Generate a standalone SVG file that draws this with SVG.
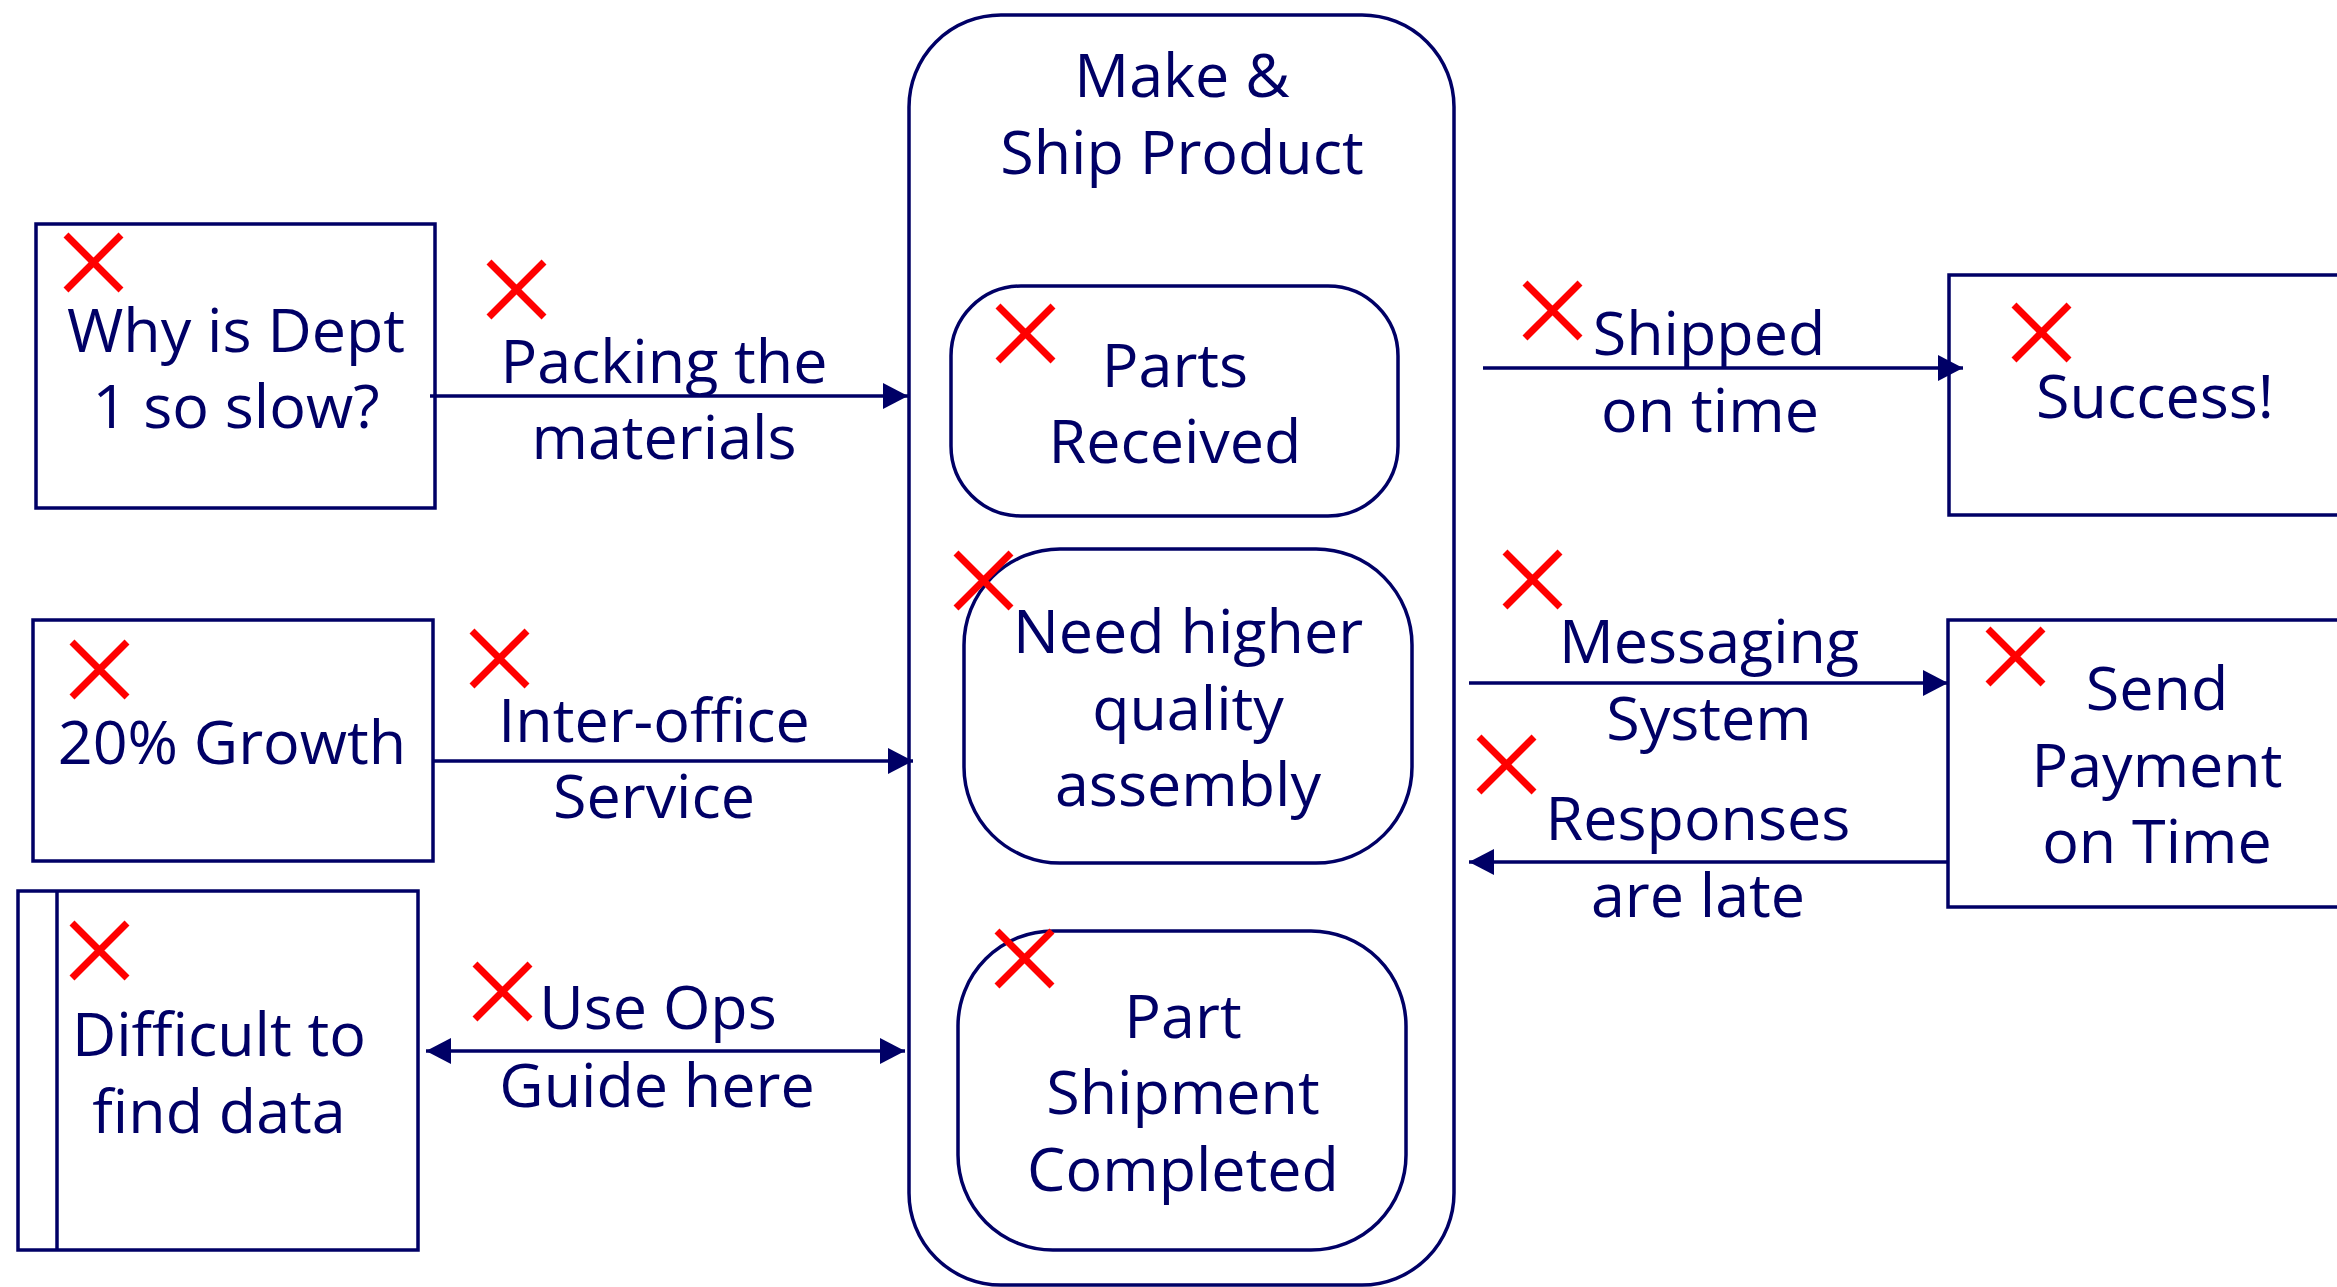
<svg xmlns="http://www.w3.org/2000/svg" xmlns:xlink="http://www.w3.org/1999/xlink" width="2337" height="1287" viewBox="0 0 2337 1287">
<style>
.box{fill:#fff;stroke:#000066;stroke-width:3.5}
.t{font-family:"Open Sans","Noto Sans","Liberation Sans",sans-serif;font-size:61px;fill:#000066;text-anchor:middle}
.c{stroke:#000066;stroke-width:3.5;fill:none}
</style>
<defs>
<marker id="ah" markerUnits="userSpaceOnUse" markerWidth="27" markerHeight="27" refX="25" refY="13" orient="auto-start-reverse" viewBox="0 0 27 27">
<path d="M0,0 L25,13 L0,26 z" fill="#000066"/>
</marker>
<g id="xm"><path d="M0,0 L55,55 M55,0 L0,55" stroke="#ff0000" stroke-width="7" fill="none"/></g>
</defs>
<rect width="2337" height="1287" fill="#fff"/>

<g id="container">
<rect class="box" x="909" y="15" width="545" height="1270" rx="92" ry="92"/>
<text class="t" x="1182" y="97">Make &amp;</text>
<text class="t" x="1182" y="174">Ship Product</text>
</g>

<g id="parts-received">
<rect class="box" x="951" y="286" width="447" height="230" rx="70" ry="70"/>
<use xlink:href="#xm" x="998" y="306"/>
<text class="t" x="1175" y="387">Parts</text>
<text class="t" x="1175" y="463">Received</text>
</g>

<g id="need-higher">
<rect class="box" x="964" y="549" width="448" height="314" rx="96" ry="96"/>
<use xlink:href="#xm" x="956" y="553"/>
<text class="t" x="1188" y="653">Need higher</text>
<text class="t" x="1188" y="730">quality</text>
<text class="t" x="1188" y="806">assembly</text>
</g>

<g id="part-shipment">
<rect class="box" x="958" y="931" width="448" height="319" rx="95" ry="95"/>
<use xlink:href="#xm" x="997" y="931"/>
<text class="t" x="1183" y="1038">Part</text>
<text class="t" x="1183" y="1114">Shipment</text>
<text class="t" x="1183" y="1191">Completed</text>
</g>

<g id="why-dept">
<rect class="box" x="36" y="224" width="399" height="284"/>
<use xlink:href="#xm" x="66" y="235"/>
<text class="t" x="236" y="352">Why is Dept</text>
<text class="t" x="236" y="428">1 so slow?</text>
</g>

<g id="growth">
<rect class="box" x="33" y="620" width="400" height="241"/>
<use xlink:href="#xm" x="72" y="642"/>
<text class="t" x="232" y="764">20% Growth</text>
</g>

<g id="difficult">
<rect class="box" x="18" y="891" width="400" height="359"/>
<line class="c" x1="57" y1="891" x2="57" y2="1250"/>
<use xlink:href="#xm" x="72" y="923"/>
<text class="t" x="219" y="1056">Difficult to</text>
<text class="t" x="219" y="1133">find data</text>
</g>

<g id="success">
<rect class="box" x="1949" y="275" width="420" height="240"/>
<use xlink:href="#xm" x="2014" y="305"/>
<text class="t" x="2155" y="418">Success!</text>
</g>

<g id="send-payment">
<rect class="box" x="1948" y="620" width="420" height="287"/>
<use xlink:href="#xm" x="1988" y="629"/>
<text class="t" x="2157" y="710">Send</text>
<text class="t" x="2157" y="787">Payment</text>
<text class="t" x="2157" y="863">on Time</text>
</g>

<g id="connectors">
<line class="c" x1="430" y1="396" x2="908" y2="396" marker-end="url(#ah)"/>
<use xlink:href="#xm" x="489" y="262"/>
<text class="t" x="664" y="383">Packing the</text>
<text class="t" x="664" y="459">materials</text>

<line class="c" x1="432" y1="761" x2="913" y2="761" marker-end="url(#ah)"/>
<use xlink:href="#xm" x="472" y="631"/>
<text class="t" x="654" y="742">Inter-office</text>
<text class="t" x="654" y="818">Service</text>

<line class="c" x1="426" y1="1051" x2="905" y2="1051" marker-start="url(#ah)" marker-end="url(#ah)"/>
<use xlink:href="#xm" x="475" y="964"/>
<text class="t" x="658" y="1029">Use Ops</text>
<text class="t" x="657" y="1107">Guide here</text>

<line class="c" x1="1483" y1="368" x2="1963" y2="368" marker-end="url(#ah)"/>
<use xlink:href="#xm" x="1525" y="283"/>
<text class="t" x="1709" y="355">Shipped</text>
<text class="t" x="1710" y="432">on time</text>

<line class="c" x1="1469" y1="683" x2="1948" y2="683" marker-end="url(#ah)"/>
<use xlink:href="#xm" x="1505" y="552"/>
<text class="t" x="1709" y="663">Messaging</text>
<text class="t" x="1709" y="740">System</text>

<line class="c" x1="1948" y1="862" x2="1469" y2="862" marker-end="url(#ah)"/>
<use xlink:href="#xm" x="1479" y="737"/>
<text class="t" x="1698" y="840">Responses</text>
<text class="t" x="1698" y="917">are late</text>
</g>
</svg>
